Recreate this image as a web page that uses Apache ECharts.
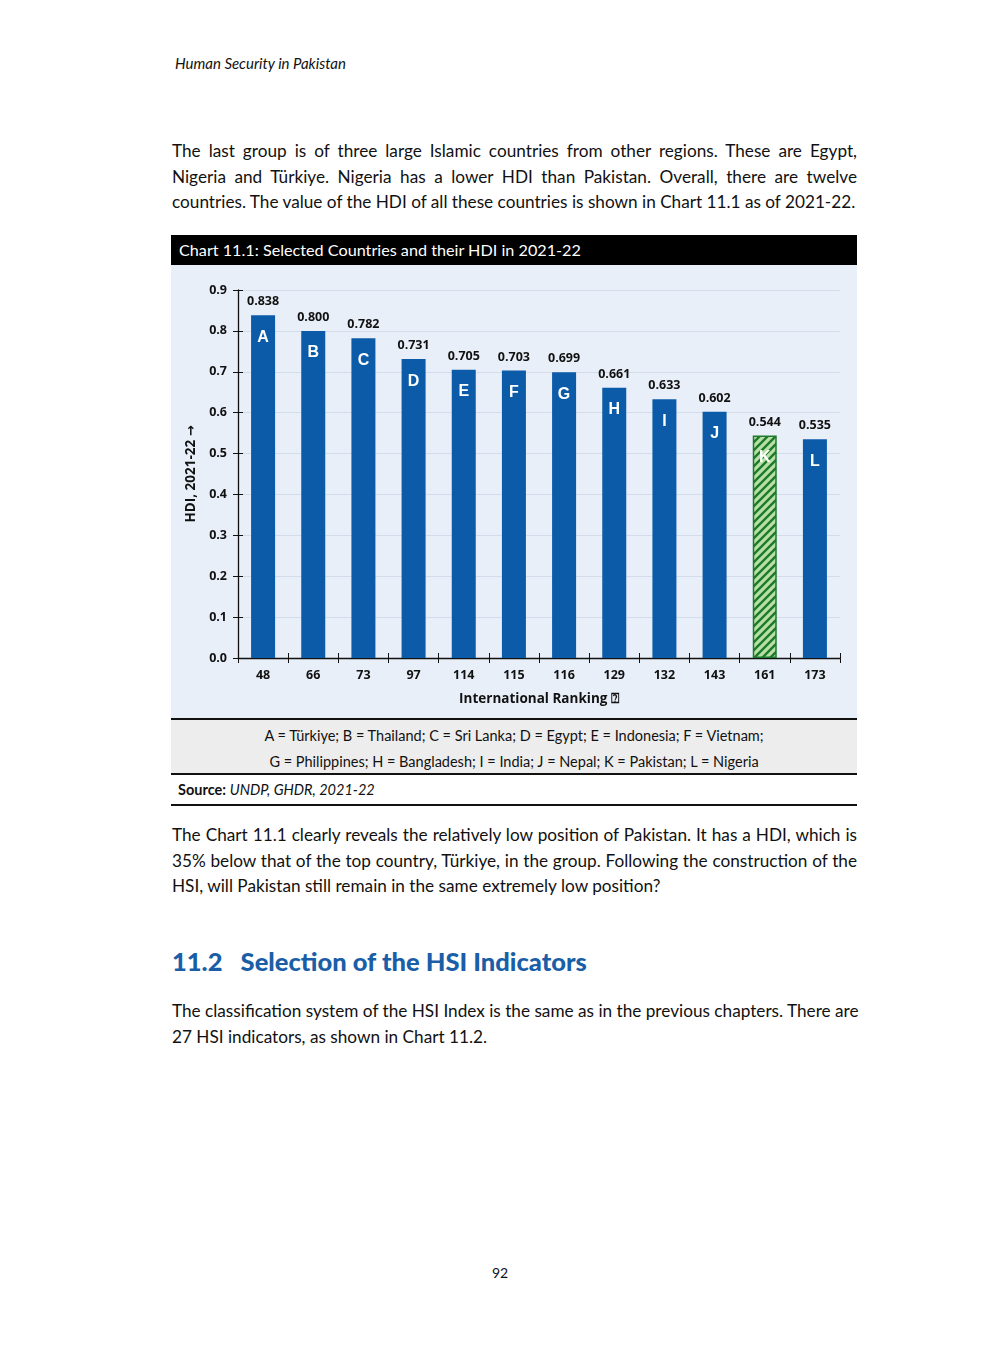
<!DOCTYPE html>
<html>
<head>
<meta charset="utf-8">
<script src="https://cdn.jsdelivr.net/npm/echarts@6/dist/echarts.min.js"></script>
<style>
  html, body { margin: 0; padding: 0; background: #fff; }
  body { width: 1000px; height: 1357px; position: relative; font-family: Lato, "Open Sans", sans-serif; color: #111; }
  .abs { position: absolute; }
  .runhead { left: 175px; top: 54px; font-size: 15px; font-style: italic; }
  .para { left: 172px; width: 685px; font-size: 17.2px; }
  .para div { height: 25.5px; line-height: 25.5px; text-align: justify; text-align-last: justify; white-space: nowrap; }
  .para div.last { text-align-last: left; }
  .ctitle { left: 171px; top: 235px; width: 686px; height: 30px; background: #000; color: #fff; font-size: 16.2px; line-height: 30px; box-sizing: border-box; padding-left: 8px; }
  #chart { left: 171px; top: 265px; width: 686px; height: 453px; background: #e9eff8; }
  .key { left: 171px; top: 718px; width: 686px; height: 57px; background: #ededed; border-top: 2px solid #111; border-bottom: 2px solid #111; box-sizing: border-box; font-size: 14.5px; text-align: center; }
  .key div { height: 25.5px; line-height: 25.5px; }
  .src { left: 171px; top: 775px; width: 686px; height: 31px; border-bottom: 2px solid #111; box-sizing: border-box; font-size: 14.5px; line-height: 30px; padding-left: 7px; }
  .heading { left: 172px; top: 946px; font-size: 25.5px; font-weight: 900; color: #1a5ea8; }
  .pageno { left: 0; width: 1000px; top: 1264px; text-align: center; font-size: 14px; }
</style>
</head>
<body>
<div class="abs runhead">Human Security in Pakistan</div>

<div class="abs para" style="top:138px">
  <div>The last group is of three large Islamic countries from other regions. These are Egypt,</div>
  <div>Nigeria and Türkiye. Nigeria has a lower HDI than Pakistan. Overall, there are twelve</div>
  <div class="last">countries. The value of the HDI of all these countries is shown in Chart 11.1 as of 2021-22.</div>
</div>

<div class="abs ctitle">Chart 11.1: Selected Countries and their HDI in 2021-22</div>
<div class="abs" id="chart"></div>
<div class="abs key">
  <div style="margin-top:3px">A = Türkiye; B = Thailand; C = Sri Lanka; D = Egypt; E = Indonesia; F = Vietnam;</div>
  <div>G = Philippines; H = Bangladesh; I = India; J = Nepal; K = Pakistan; L = Nigeria</div>
</div>
<div class="abs src"><b>Source:</b> <i>UNDP, GHDR, 2021-22</i></div>

<div class="abs para" style="top:822px">
  <div>The Chart 11.1 clearly reveals the relatively low position of Pakistan. It has a HDI, which is</div>
  <div>35% below that of the top country, Türkiye, in the group. Following the construction of the</div>
  <div class="last">HSI, will Pakistan still remain in the same extremely low position?</div>
</div>

<div class="abs heading">11.2&nbsp;&nbsp;&nbsp;Selection of the HSI Indicators</div>

<div class="abs para" style="top:998px">
  <div>The classification system of the HSI Index is the same as in the previous chapters. There are</div>
  <div class="last">27 HSI indicators, as shown in Chart 11.2.</div>
</div>

<div class="abs pageno">92</div>

<script>
// chart data
const rankings = ['48', '66', '73', '97', '114', '115', '116', '129', '132', '143', '161', '173'];
const letters = ['A', 'B', 'C', 'D', 'E', 'F', 'G', 'H', 'I', 'J', 'K', 'L'];
const hdi = [0.838, 0.800, 0.782, 0.731, 0.705, 0.703, 0.699, 0.661, 0.633, 0.602, 0.544, 0.535];
const yTicks = [0.0, 0.1, 0.2, 0.3, 0.4, 0.5, 0.6, 0.7, 0.8, 0.9];
const highlight = 'K';

// hatch for Pakistan bar
function makeHatch() {
  const c = document.createElement('canvas');
  c.width = 8; c.height = 8;
  const ctx = c.getContext('2d');
  ctx.fillStyle = '#b8e0a6';
  ctx.fillRect(0, 0, 8, 8);
  ctx.strokeStyle = '#1d7a2c';
  ctx.lineWidth = 2.4;
  ctx.beginPath();
  ctx.moveTo(0, 8); ctx.lineTo(8, 0);
  ctx.moveTo(-4, 4); ctx.lineTo(4, -4);
  ctx.moveTo(4, 12); ctx.lineTo(12, 4);
  ctx.stroke();
  return c;
}
const hatch = makeHatch();

const blue = '#0b5ba9';
const barData = hdi.map((v, i) => {
  if (letters[i] === highlight) {
    return { value: v, itemStyle: { color: { image: hatch, repeat: 'repeat' }, borderColor: '#1d7a2c', borderWidth: 1.5 } };
  }
  return { value: v };
});

const axisFont = { fontFamily: 'Open Sans', fontWeight: 'bold', fontSize: 12.5, color: '#111' };

const chart = echarts.init(document.getElementById('chart'));
chart.setOption({
  animation: false,
  grid: { left: 67, right: 17, top: 25, bottom: 60 },
  xAxis: [
    {
      type: 'category',
      data: rankings,
      axisLine: { lineStyle: { color: '#111', width: 1.3 } },
      axisTick: { show: true, length: 5, lineStyle: { color: '#111' } },
      axisLabel: Object.assign({ margin: 11 }, axisFont),
      name: 'International Ranking ⍰',
      nameLocation: 'middle',
      nameGap: 34,
      nameTextStyle: Object.assign({}, axisFont, { fontSize: 13.5 })
    },
    {
      type: 'category',
      data: rankings,
      position: 'bottom',
      axisLine: { show: false },
      axisTick: { show: true, inside: true, length: 5, lineStyle: { color: '#111' } },
      axisLabel: { show: false }
    }
  ],
  yAxis: [
    {
      type: 'value',
      min: yTicks[0],
      max: yTicks[yTicks.length - 1],
      interval: 0.1,
      axisLine: { show: true, lineStyle: { color: '#111', width: 1.3 } },
      axisTick: { show: true, length: 5, lineStyle: { color: '#111' } },
      axisLabel: Object.assign({ margin: 11, formatter: v => v.toFixed(1) }, axisFont),
      splitLine: { lineStyle: { color: '#d3dcea' } },
      name: 'HDI, 2021-22 {arr|→}',
      nameLocation: 'middle',
      nameGap: 36,
      nameTextStyle: Object.assign({}, axisFont, {
        fontSize: 13.5,
        rich: { arr: { fontFamily: 'DejaVu Sans', fontWeight: 'bold', fontSize: 13, color: '#111' } }
      })
    },
    {
      type: 'value',
      position: 'left',
      min: yTicks[0],
      max: yTicks[yTicks.length - 1],
      interval: 0.1,
      axisLine: { show: false },
      axisTick: { show: true, inside: true, length: 5, lineStyle: { color: '#111' } },
      axisLabel: { show: false },
      splitLine: { show: false }
    }
  ],
  series: [
    {
      type: 'bar',
      data: barData,
      barWidth: 24,
      itemStyle: { color: blue },
      label: {
        show: true,
        position: 'top',
        distance: 7,
        formatter: p => p.value.toFixed(3),
        fontFamily: 'Open Sans',
        fontWeight: 'bold',
        fontSize: 12.5,
        color: '#111'
      }
    },
    {
      type: 'bar',
      data: hdi,
      barWidth: 24,
      barGap: '-100%',
      itemStyle: { color: 'rgba(0,0,0,0)' },
      label: {
        show: true,
        position: 'insideTop',
        distance: 14,
        formatter: p => letters[p.dataIndex],
        fontFamily: 'Liberation Sans',
        fontWeight: 'bold',
        fontSize: 16,
        color: '#fff'
      },
      silent: true
    }
  ]
});
</script>
</body>
</html>
